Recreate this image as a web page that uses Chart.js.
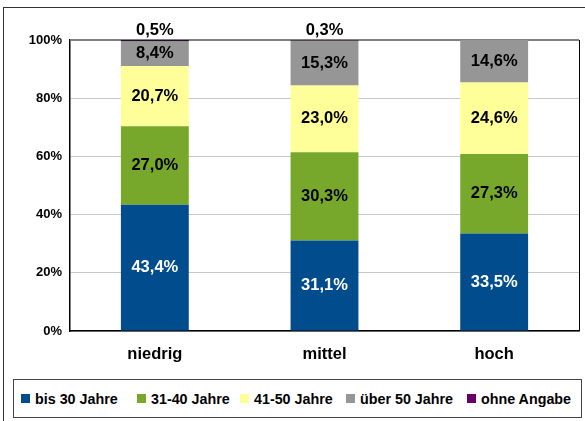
<!DOCTYPE html>
<html>
<head>
<meta charset="utf-8">
<script src="https://cdn.jsdelivr.net/npm/chart.js@4"></script>
<style>
  html, body { margin: 0; padding: 0; background: #fff; }
  body { width: 585px; height: 421px; position: relative; overflow: hidden; font-family: "Liberation Sans", Arial, sans-serif; }
  #frame { position: absolute; left: 3px; top: 7px; width: 600px; height: 430px; border: 1px solid #333; box-sizing: border-box; }
  #wrap { position: absolute; left: 0; top: 0; width: 585px; height: 421px; }
  #legend { position: absolute; left: 13px; top: 379px; width: 569px; height: 39px; border: 1px solid #444;
            box-sizing: border-box; background: #fff; }
  #legend .item { position: absolute; top: 0; height: 37px; display: flex; align-items: center; font-weight: bold; font-size: 14.3px; color: #000; white-space: nowrap; }
  #legend .sw { width: 9px; height: 9px; margin-right: 5px; }
</style>
</head>
<body>
<div id="frame"></div>
<div id="wrap"><canvas id="chart" width="585" height="421"></canvas></div>
<div id="legend"></div>
<script>
const categories = ['niedrig', 'mittel', 'hoch'];
const seriesNames = ['bis 30 Jahre', '31-40 Jahre', '41-50 Jahre', 'über 50 Jahre', 'ohne Angabe'];
const bis30 = [43.4, 31.1, 33.5];
const von31bis40 = [27.0, 30.3, 27.3];
const von41bis50 = [20.7, 23.0, 24.6];
const ueber50 = [8.4, 15.3, 14.6];
const ohneAngabe = [0.5, 0.3, 0];
const yTicks = [0, 20, 40, 60, 80, 100];

const colors = ['#004C8C', '#77A82B', '#FFFF99', '#969696', '#660066'];
const labelColors = ['#fff', '#000', '#000', '#000', '#000'];
const seriesValues = [bis30, von31bis40, von41bis50, ueber50, ohneAngabe];
// legend item left edges inside the legend box
const legendLefts = [7, 123, 226, 332, 453];

const datasets = seriesValues.map((vals, i) => ({
  label: seriesNames[i],
  data: vals,
  backgroundColor: i === 4 ? '#2a0a2a' : colors[i],
  borderWidth: 0,
  categoryPercentage: 1.0,
  barPercentage: 0.4
}));

function fmt(v) {
  return v.toFixed(1).replace('.', ',') + '%';
}

// values drawn in/above the stacked segments
const valueLabels = {
  id: 'valueLabels',
  afterDatasetsDraw(chart) {
    const ctx = chart.ctx;
    ctx.save();
    ctx.font = 'bold 16.5px "Liberation Sans", Arial, sans-serif';
    ctx.textAlign = 'center';
    ctx.textBaseline = 'middle';
    chart.data.datasets.forEach((ds, di) => {
      const meta = chart.getDatasetMeta(di);
      meta.data.forEach((bar, j) => {
        const v = ds.data[j];
        if (!v) return;
        if (v < 2) {
          ctx.fillStyle = '#000';
          ctx.fillText(fmt(v), bar.x, Math.min(bar.y, bar.base) - 10);
        } else {
          ctx.fillStyle = labelColors[di];
          ctx.fillText(fmt(v), bar.x, (bar.y + bar.base) / 2);
        }
      });
    });
    ctx.restore();
  }
};

// plot area border: gray top, black right
const plotBorder = {
  id: 'plotBorder',
  beforeDatasetsDraw(chart) {
    const a = chart.chartArea, ctx = chart.ctx;
    ctx.save();
    ctx.strokeStyle = '#000';
    ctx.lineWidth = 1;
    ctx.beginPath();
    ctx.moveTo(a.right + 0.5, a.top);
    ctx.lineTo(a.right + 0.5, a.bottom);
    ctx.stroke();
    ctx.strokeStyle = '#7f7f7f';
    ctx.lineWidth = 2;
    ctx.beginPath();
    ctx.moveTo(a.left, a.top);
    ctx.lineTo(a.right, a.top);
    ctx.stroke();
    ctx.restore();
  }
};

new Chart(document.getElementById('chart'), {
  type: 'bar',
  data: { labels: categories, datasets: datasets },
  options: {
    responsive: false,
    animation: false,
    layout: { padding: { top: 40, right: 6, left: 0, bottom: 0 } },
    plugins: { legend: { display: false }, tooltip: { enabled: false } },
    scales: {
      x: {
        stacked: true,
        grid: { display: false, drawTicks: false },
        border: { color: '#000', width: 1.5 },
        ticks: { color: '#000', padding: 14, font: { family: '"Liberation Sans", Arial, sans-serif', size: 16.5, weight: 'bold' } },
        afterFit(s) { s.height = 90; }
      },
      y: {
        stacked: true,
        min: 0,
        max: 100,
        afterBuildTicks(s) { s.ticks = yTicks.map(v => ({ value: v })); },
        grid: { color: '#c8c8c8', drawTicks: false },
        border: { color: '#000', width: 1.5 },
        ticks: {
          color: '#000', padding: 8,
          font: { family: '"Liberation Sans", Arial, sans-serif', size: 13, weight: 'bold' },
          callback: v => v + '%'
        },
        afterFit(s) { s.width = 70; }
      }
    }
  },
  plugins: [plotBorder, valueLabels]
});

const legend = document.getElementById('legend');
seriesNames.forEach((name, i) => {
  const item = document.createElement('div');
  item.className = 'item';
  item.style.left = legendLefts[i] + 'px';
  const sw = document.createElement('span');
  sw.className = 'sw';
  sw.style.background = colors[i];
  const t = document.createElement('span');
  t.textContent = name;
  item.appendChild(sw);
  item.appendChild(t);
  legend.appendChild(item);
});
</script>
</body>
</html>
